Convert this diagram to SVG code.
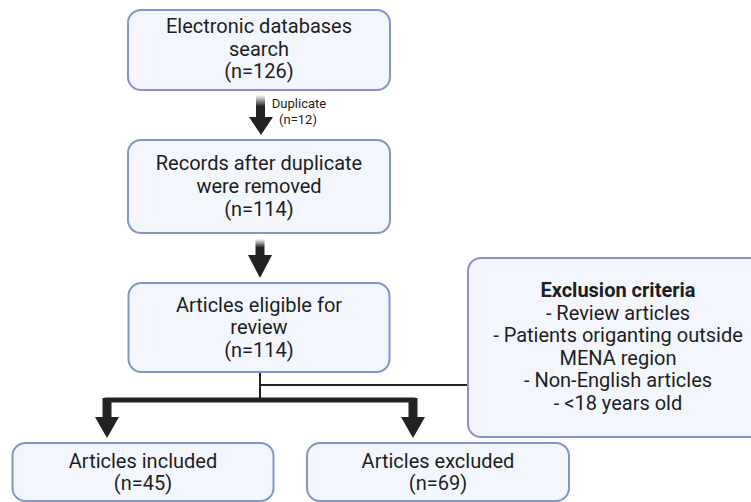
<svg xmlns="http://www.w3.org/2000/svg" width="751" height="502" viewBox="0 0 751 502">
  <defs>
    <style>
      .box { fill: #f3f6fc; stroke: #8595c4; stroke-width: 2; }
      .t { font-family: Roboto, "Liberation Sans", sans-serif; font-size: 20px; fill: #1e1e1e; text-anchor: middle; }
      .b { font-weight: 700; }
      .s { font-family: Roboto, "Liberation Sans", sans-serif; font-size: 13px; fill: #1e1e1e; text-anchor: middle; }
      .arrow { fill: #222222; }
      .thin { stroke: #222222; stroke-width: 2; fill: none; }
      .thick { stroke: #222222; stroke-width: 5; fill: none; }
    </style>
    <linearGradient id="fadeIn" x1="0" y1="0" x2="0" y2="1">
      <stop offset="0" stop-color="#222222" stop-opacity="0"/>
      <stop offset="0.5" stop-color="#222222" stop-opacity="1"/>
      <stop offset="1" stop-color="#222222" stop-opacity="1"/>
    </linearGradient>
  </defs>

  <g id="connectors">
    <!-- search -> records -->
    <rect x="256" y="95" width="9" height="23" fill="url(#fadeIn)"/>
    <polygon class="arrow" points="249,117 273,117 261,135"/>
    <!-- records -> eligible -->
    <rect x="255.5" y="239" width="9" height="17" fill="url(#fadeIn)"/>
    <polygon class="arrow" points="248,255 272,255 260,278"/>
    <!-- eligible -> split, exclusion criteria branch -->
    <path class="thin" d="M260,372 V400 M260,385 H468"/>
    <path class="thick" d="M107,417 V400 H413 V417"/>
    <rect class="arrow" x="102.5" y="398" width="9" height="20"/>
    <rect class="arrow" x="408.5" y="398" width="9" height="20"/>
    <polygon class="arrow" points="95,417 119,417 107,438"/>
    <polygon class="arrow" points="401,417 425,417 413,438"/>
    <text class="s" x="299" y="108">Duplicate</text>
    <text class="s" x="298" y="124">(n=12)</text>
  </g>

  <g id="search">
    <rect class="box" x="128" y="10" width="262" height="80" rx="13"/>
    <text class="t" x="259" y="33">Electronic databases</text>
    <text class="t" x="259" y="55.5">search</text>
    <text class="t" x="259" y="78">(n=126)</text>
  </g>

  <g id="records">
    <rect class="box" x="128" y="140" width="262" height="93" rx="13"/>
    <text class="t" x="259" y="170">Records after duplicate</text>
    <text class="t" x="259" y="193">were removed</text>
    <text class="t" x="259" y="216">(n=114)</text>
  </g>

  <g id="eligible">
    <rect class="box" x="128.5" y="283" width="261" height="89" rx="13"/>
    <text class="t" x="259" y="312">Articles eligible for</text>
    <text class="t" x="259" y="334">review</text>
    <text class="t" x="259" y="357">(n=114)</text>
  </g>

  <g id="exclusion-criteria">
    <rect class="box" x="468" y="258" width="300" height="179" rx="13"/>
    <text class="t b" x="618" y="297">Exclusion criteria</text>
    <text class="t" x="618" y="319.5">- Review articles</text>
    <text class="t" x="618" y="342">- Patients origanting outside</text>
    <text class="t" x="618" y="364.5">MENA region</text>
    <text class="t" x="618" y="387">- Non-English articles</text>
    <text class="t" x="618" y="409.5">- &lt;18 years old</text>
  </g>

  <g id="included">
    <rect class="box" x="12.5" y="443" width="261" height="58" rx="13"/>
    <text class="t" x="143" y="468">Articles included</text>
    <text class="t" x="143" y="490">(n=45)</text>
  </g>

  <g id="excluded">
    <rect class="box" x="307" y="443" width="262" height="58" rx="13"/>
    <text class="t" x="438" y="468">Articles excluded</text>
    <text class="t" x="438" y="490">(n=69)</text>
  </g>
</svg>
